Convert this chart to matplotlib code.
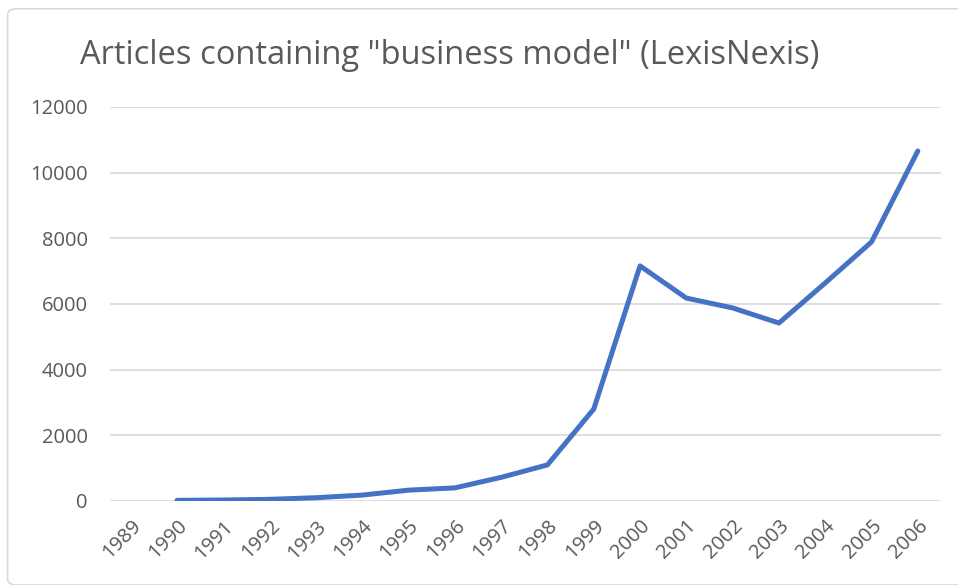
import matplotlib.pyplot as plt
import numpy as np
from matplotlib.patches import FancyBboxPatch

years = ['1989', '1990', '1991', '1992', '1993', '1994', '1995', '1996', '1997',
         '1998', '1999', '2000', '2001', '2002', '2003', '2004', '2005', '2006']
articles = [np.nan, 20, 30, 50, 100, 180, 330, 400, 720,
            1100, 2800, 7160, 6180, 5880, 5420, 6640, 7890, 10660]
y_ticks = [0, 2000, 4000, 6000, 8000, 10000, 12000]

plt.rcParams['font.family'] = ['Open Sans', 'DejaVu Sans']
grey = '#595959'

fig = plt.figure(figsize=(9.58, 5.85), dpi=100)
ax = fig.add_axes([0.1148, 0.1436, 0.8674, 0.6735])

x = np.arange(len(years))
ax.plot(x, articles, color='#4472C4', lw=3.6, solid_capstyle='round', solid_joinstyle='round', zorder=3)

ax.set_xlim(-0.45, 17.5)
ax.set_ylim(0, 12000)
ax.set_yticks(y_ticks)
ax.set_yticklabels([str(v) for v in y_ticks])
ax.set_xticks(x)
ax.set_xticklabels(years, rotation=45, ha='right', rotation_mode='anchor')
ax.tick_params(axis='both', length=0, labelsize=14.5, labelcolor=grey)
ax.tick_params(axis='y', pad=16)
ax.tick_params(axis='x', pad=11)
ax.grid(axis='y', color='#D9D9D9', lw=1.2)
ax.set_axisbelow(True)
for s in ax.spines.values():
    s.set_visible(False)

fig.text(0.083, 0.905, 'Articles containing "business model" (LexisNexis)',
         fontsize=23.5, color=grey, va='center', ha='left')

border = FancyBboxPatch((0.008, 0.0), 1.2, 0.985, transform=fig.transFigure,
                        boxstyle='round,pad=0,rounding_size=0.01',
                        fill=False, edgecolor='#D9D9D9', lw=1.2)
fig.patches.append(border)

fig.savefig('out.png', dpi=100)
